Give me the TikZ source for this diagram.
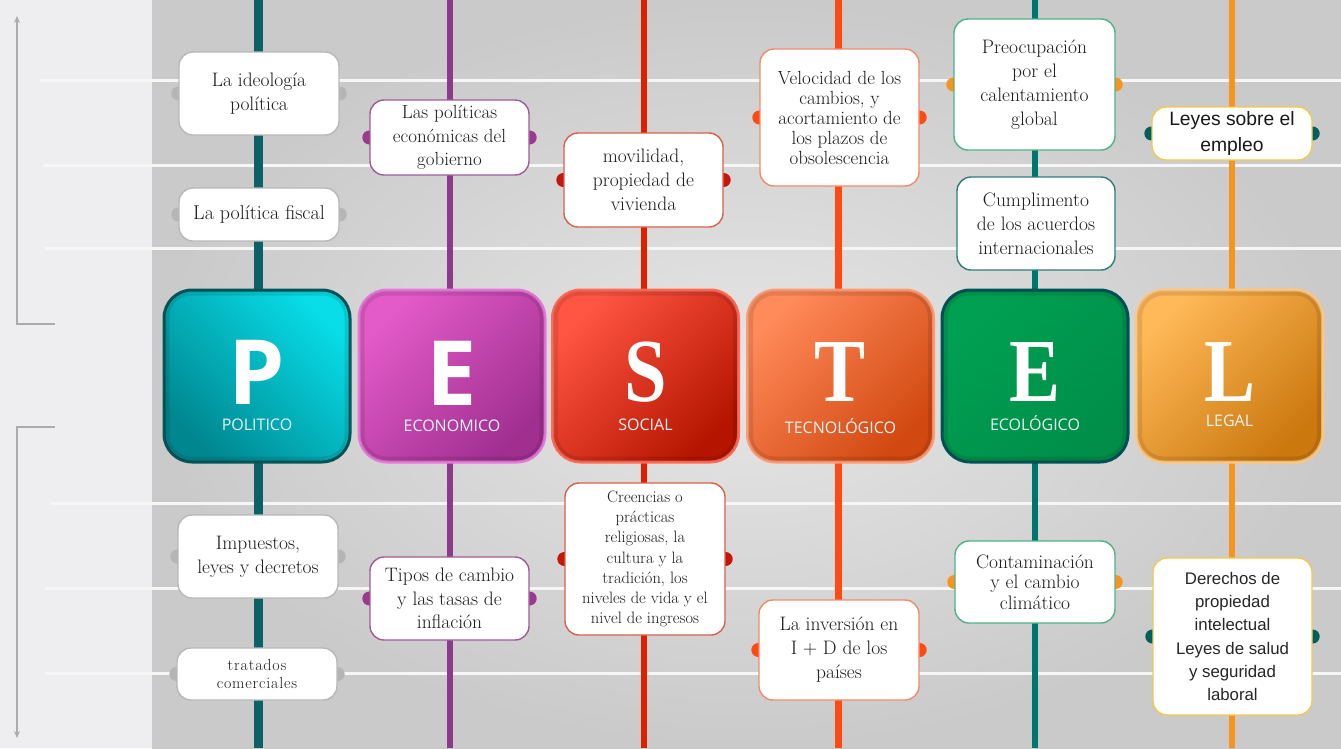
\documentclass[tikz,border=0pt]{standalone}
\usepackage{fontspec}
\newfontfamily\osans{Open Sans}
\newfontfamily\lsans{Liberation Sans}
\newfontfamily\lserif{Liberation Serif}
\newfontfamily\lmspaced[LetterSpace=5]{Latin Modern Roman}
\usetikzlibrary{arrows.meta}
\pgfdeclarelayer{bg}
\pgfdeclarelayer{dots}
\pgfsetlayers{bg,dots,main}
\definecolor{stripbg}{HTML}{EEEEF0}
\definecolor{bgin}{HTML}{E6E6E6}
\definecolor{bgout}{HTML}{CACACA}
\definecolor{hline}{HTML}{F6F6F6}
\definecolor{arrgray}{HTML}{ABABAB}
\definecolor{txt}{HTML}{1C1C1C}
\definecolor{lineP}{HTML}{0B6166}
\definecolor{lineE}{HTML}{8B3A8E}
\definecolor{lineS}{HTML}{E01E00}
\definecolor{lineT}{HTML}{FF4A12}
\definecolor{lineC}{HTML}{00756E}
\definecolor{lineL}{HTML}{F7941E}
\definecolor{dotP}{HTML}{B5B5B5}
\definecolor{dotE}{HTML}{9A3A8E}
\definecolor{dotS}{HTML}{C5160A}
\definecolor{dotT}{HTML}{FF4A12}
\definecolor{dotC}{HTML}{F7941E}
\definecolor{dotL}{HTML}{00605F}
\definecolor{brdP}{HTML}{B8B8B8}
\definecolor{brdE}{HTML}{A05A9A}
\definecolor{brdS}{HTML}{D8604A}
\definecolor{brdT}{HTML}{F28A6A}
\definecolor{brdC}{HTML}{4DB386}
\definecolor{brdCb}{HTML}{2E7D7A}
\definecolor{brdL}{HTML}{F2C94C}
\definecolor{labc}{HTML}{E2F4F4}
\definecolor{Pbr}{HTML}{08DDE8}\definecolor{Pdk}{HTML}{00868F}\definecolor{Pbd}{HTML}{065659}
\definecolor{Ebr}{HTML}{E35BC8}\definecolor{Edk}{HTML}{A02F90}\definecolor{Ebd}{HTML}{E57AD8}
\definecolor{Sbr}{HTML}{FF5543}\definecolor{Sdk}{HTML}{B51500}\definecolor{Sbd}{HTML}{FF6B55}
\definecolor{Tbr}{HTML}{FF8A5A}\definecolor{Tdk}{HTML}{D14810}\definecolor{Tbd}{HTML}{FF9B72}
\definecolor{Cbr}{HTML}{00A052}\definecolor{Cdk}{HTML}{008E48}\definecolor{Cbd}{HTML}{00535A}
\definecolor{Lbr}{HTML}{FFB958}\definecolor{Ldk}{HTML}{CB780E}\definecolor{Lbd}{HTML}{FFC77A}
\tikzset{
  hl/.style={draw=hline, line width=3pt},
  vline/.style={line width=#1},
  dotc/.style={fill=#1},
  tbox/.style={draw=#1, fill=white, rounded corners=14pt, line width=1.4pt, inner sep=0pt,
    align=center, text=txt, font=\fontsize{19.5}{24}\selectfont},
  lbox/.style={rounded corners=28pt, line width=3pt, minimum width=186pt, minimum height=172pt, inner sep=0pt},
  rim/.style={draw=black, draw opacity=0.10, line width=5pt, rounded corners=24pt},
  lsansletter/.style={text=white, anchor=base, font=\osans\bfseries\fontsize{90}{90}\selectfont, inner sep=0pt},
  lserifletter/.style={text=white, anchor=base, xscale=0.85, font=\lserif\bfseries\fontsize{90}{90}\selectfont, inner sep=0pt},
  lab/.style={text=labc, font=\osans\fontsize{16}{16}\selectfont, inner sep=0pt},
  sidearrow/.style={draw=arrgray, line width=2pt, -{Stealth[length=7pt,width=6pt]}},
}
\begin{document}
\begin{tikzpicture}[x=1pt,y=-1pt]
\useasboundingbox (0,0) rectangle (1341,748);
\begin{pgfonlayer}{bg}
  \fill[stripbg] (0,0) rectangle (152,748);
  \shade[inner color=bgin, outer color=bgout] (152,0) rectangle (1341,748);
  % horizontal guide lines
  \coordinate (h1a) at (40,80);  \coordinate (h1b) at (1341,80);
  \coordinate (h2a) at (43,165); \coordinate (h2b) at (1341,165);
  \coordinate (h3a) at (45,248); \coordinate (h3b) at (1341,248);
  \coordinate (h4a) at (50,503); \coordinate (h4b) at (1341,503);
  \coordinate (h5a) at (45,588); \coordinate (h5b) at (1341,588);
  \coordinate (h6a) at (45,673); \coordinate (h6b) at (1341,673);
  \draw[hl] (h1a) -- (h1b);
  \draw[hl] (h2a) -- (h2b);
  \draw[hl] (h3a) -- (h3b);
  \draw[hl] (h4a) -- (h4b);
  \draw[hl] (h5a) -- (h5b);
  \draw[hl] (h6a) -- (h6b);
  % side arrows
  \coordinate (a1s) at (55,324); \coordinate (a1c) at (17,324); \coordinate (a1e) at (17,16);
  \coordinate (a2s) at (55,427); \coordinate (a2c) at (17,427); \coordinate (a2e) at (17,738);
  \draw[sidearrow] (a1s) -- (a1c) -- (a1e);
  \draw[sidearrow] (a2s) -- (a2c) -- (a2e);
  % vertical colored lines
  \coordinate (Pt) at (258,0);   \coordinate (Pb) at (258,748);
  \coordinate (Et) at (449.5,0); \coordinate (Eb) at (449.5,748);
  \coordinate (St) at (644,0);   \coordinate (Sb) at (644,748);
  \coordinate (Tt) at (838,0);   \coordinate (Tb) at (838,748);
  \coordinate (Ct) at (1035,0);  \coordinate (Cb) at (1035,748);
  \coordinate (Lt) at (1232,0);  \coordinate (Lb) at (1232,748);
  \draw[lineP, vline=9pt] (Pt) -- (Pb);
  \draw[lineE, vline=6pt] (Et) -- (Eb);
  \draw[lineS, vline=6.5pt] (St) -- (Sb);
  \draw[lineT, vline=7pt] (Tt) -- (Tb);
  \draw[lineC, vline=6pt] (Ct) -- (Cb);
  \draw[lineL, vline=6pt] (Lt) -- (Lb);
\end{pgfonlayer}

% ---------- text boxes ----------
\node[tbox=brdP, minimum width=160pt, minimum height=83pt] (P1) at (259,93.5) {La ideología\\política};
\node[tbox=brdP, minimum width=160pt, minimum height=53pt, font=\fontsize{20}{24}\selectfont] (P2) at (259,214.5) {La política fiscal};
\node[tbox=brdP, minimum width=160pt, minimum height=83pt] (P3) at (258,556.5) {Impuestos,\\leyes y decretos};
\node[tbox=brdP, minimum width=160pt, minimum height=52pt, font=\lmspaced\fontsize{16}{18}\selectfont] (P4) at (257,674) {tratados\\comerciales};

\node[tbox=brdE, minimum width=159pt, minimum height=75pt, font=\fontsize{19}{23.5}\selectfont] (E1) at (449.5,137.5) {Las políticas\\económicas del\\gobierno};
\node[tbox=brdE, minimum width=159pt, minimum height=83pt, font=\fontsize{19.5}{23.5}\selectfont] (E2) at (449.5,598.5) {Tipos de cambio\\y las tasas de\\inflación};

\node[tbox=brdS, minimum width=159pt, minimum height=94pt] (S1) at (643.5,180) {movilidad,\\propiedad de\\vivienda};
\node[tbox=brdS, minimum width=160pt, minimum height=152pt, font=\fontsize{16.5}{20.3}\selectfont] (S2) at (645,559) {Creencias o\\prácticas\\religiosas, la\\cultura y la\\tradición, los\\niveles de vida y el\\nivel de ingresos};

\node[tbox=brdT, minimum width=159pt, minimum height=137pt, font=\fontsize{19}{20}\selectfont] (T1) at (839.5,117.5) {Velocidad de los\\cambios, y\\acortamiento de\\los plazos de\\obsolescencia};
\node[tbox=brdT, minimum width=160pt, minimum height=100pt] (T2) at (839,650) {La inversión en\\I + D de los\\países};

\node[tbox=brdC, minimum width=161pt, minimum height=131pt] (C1) at (1034.5,84.5) {Preocupación\\por el\\calentamiento\\global};
\node[tbox=brdCb, minimum width=158pt, minimum height=93pt] (C2) at (1036,223.5) {Cumplimento\\de los acuerdos\\internacionales};
\node[tbox=brdC, minimum width=160pt, minimum height=82pt, font=\fontsize{19.5}{20.5}\selectfont] (C3) at (1035,582) {Contaminación\\y el cambio\\climático};

\node[tbox=brdL, minimum width=160pt, minimum height=53pt, font=\lsans\fontsize{19.3}{26}\selectfont, text=black!90] (L1) at (1232,133.5) {Leyes sobre el\\empleo};
\node[tbox=brdL, minimum width=159pt, minimum height=157pt, font=\lsans\fontsize{16.8}{23.3}\selectfont, text=black!85] (L2) at (1232.5,636.5) {Derechos de\\propiedad\\intelectual\\Leyes de salud\\y seguridad\\laboral};

% ---------- side dots ----------
\begin{pgfonlayer}{dots}
  \foreach \n in {P1,P2,P3,P4}{\fill[dotc=dotP] (\n.west) circle (7pt); \fill[dotc=dotP] (\n.east) circle (7pt);}
  \foreach \n in {E1,E2}{\fill[dotc=dotE] (\n.west) circle (7pt); \fill[dotc=dotE] (\n.east) circle (7pt);}
  \foreach \n in {S1,S2}{\fill[dotc=dotS] (\n.west) circle (7pt); \fill[dotc=dotS] (\n.east) circle (7pt);}
  \foreach \n in {T1,T2}{\fill[dotc=dotT] (\n.west) circle (7pt); \fill[dotc=dotT] (\n.east) circle (7pt);}
  \foreach \n in {C1,C3}{\fill[dotc=dotC] (\n.west) circle (7pt); \fill[dotc=dotC] (\n.east) circle (7pt);}
  \foreach \n in {L1,L2}{\fill[dotc=dotL] (\n.west) circle (7pt); \fill[dotc=dotL] (\n.east) circle (7pt);}
\end{pgfonlayer}

% ---------- letter boxes ----------
\node[lbox, draw=Pbd, top color=Pbr, bottom color=Pdk, shading angle=-45] (Pbox) at (257,376) {};
\node[lbox, draw=Ebd, top color=Ebr, bottom color=Edk, shading angle=45] (Ebox) at (452,376) {};
\node[lbox, draw=Sbd, top color=Sbr, bottom color=Sdk, shading angle=45] (Sbox) at (645.5,376) {};
\node[lbox, draw=Tbd, top color=Tbr, bottom color=Tdk, shading angle=45] (Tbox) at (840.5,376) {};
\node[lbox, draw=Cbd, top color=Cbr, bottom color=Cdk, shading angle=45] (Cbox) at (1035,376) {};
\node[lbox, draw=Lbd, top color=Lbr, bottom color=Ldk, shading angle=45] (Lbox) at (1229.5,376) {};
\foreach \b in {Pbox,Ebox,Sbox,Tbox,Cbox,Lbox}{
  \draw[rim] ([shift={(4.5pt,-4.5pt)}]\b.north west) rectangle ([shift={(-4.5pt,4.5pt)}]\b.south east);
}

\node[lsansletter] (Pl) at (257,404) {P};
\node[lsansletter] (El) at (452,405) {E};
\node[lserifletter] (Sl) at (645.5,401) {S};
\node[lserifletter] (Tl) at (840.5,401) {T};
\node[lserifletter] (Cl) at (1035,401) {E};
\node[lserifletter] (Ll) at (1229.5,401) {L};

\node[lab] (Pt2) at (257,425) {POLITICO};
\node[lab] (Et2) at (452,426) {ECONOMICO};
\node[lab] (St2) at (645.5,425) {SOCIAL};
\node[lab] (Tt2) at (840.5,426) {TECNOLÓGICO};
\node[lab] (Ct2) at (1035,423) {ECOLÓGICO};
\node[lab] (Lt2) at (1229.5,421) {LEGAL};
\end{tikzpicture}
\end{document}
